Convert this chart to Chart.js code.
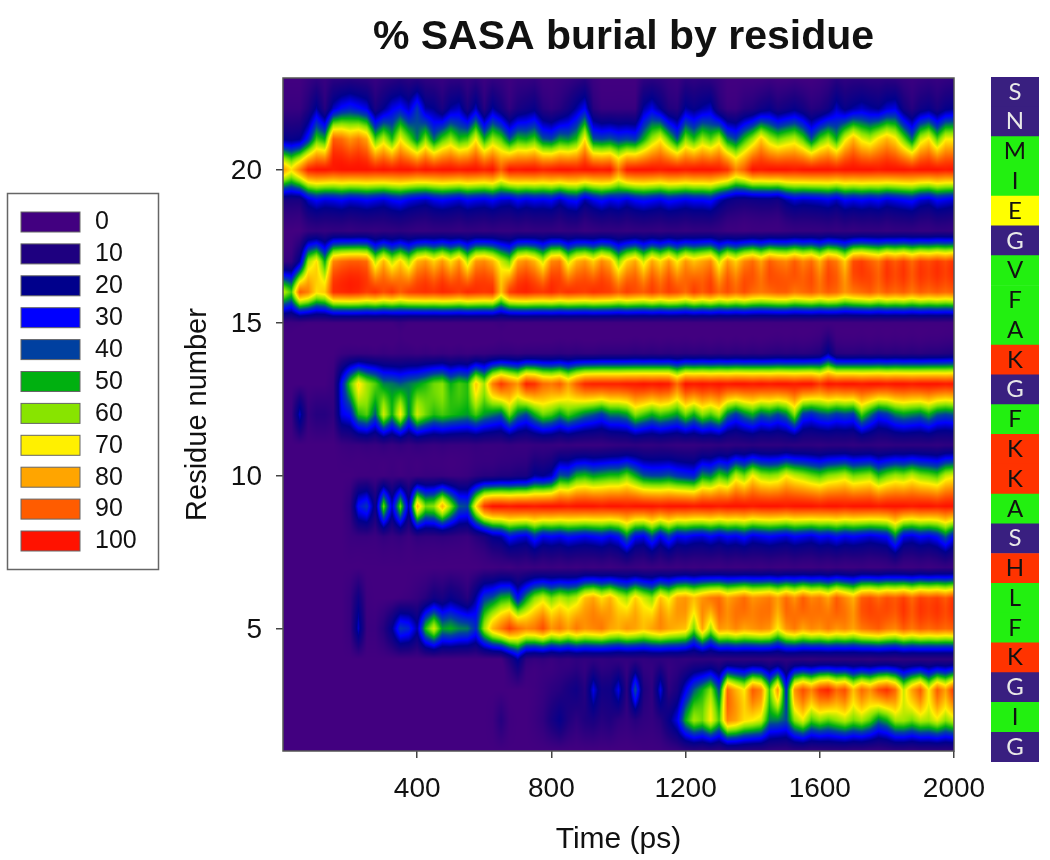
<!DOCTYPE html>
<html>
<head>
<meta charset="utf-8">
<title>% SASA burial by residue</title>
<script src="https://cdn.jsdelivr.net/npm/chart.js@4/dist/chart.umd.min.js"></script>
<style>
    html, body { margin: 0; padding: 0; background: #fff; }
    #wrap { position: relative; width: 1050px; height: 860px; overflow: hidden; }
    #mapChart { position: absolute; left: 0; top: 0; }
    #stripChart { position: absolute; left: 991px; top: 77px; }
</style>
</head>
<body>
<div id="wrap">
    <canvas id="mapChart" width="1050" height="860"></canvas>
    <canvas id="stripChart" width="48" height="685"></canvas>
</div>
<script>
// time of every column, one reading each 25 ps
const timeStep = 25
const timeTicks = [400, 800, 1200, 1600, 2000]
const residueTicks = [5, 10, 15, 20]

const levels = [0, 10, 20, 30, 40, 50, 60, 70, 80, 90, 100]
const levelColors = ['#420080', '#1e0080', '#00008c', '#0000ff', '#0040a0', '#00b010', '#88e400', '#fff000', '#ffa500', '#ff5c00', '#ff1200']

// residues from the top of the strip down
const residueLetters = ['S', 'N', 'M', 'I', 'E', 'G', 'V', 'F', 'A', 'K', 'G', 'F', 'K', 'K', 'A', 'S', 'H', 'L', 'F', 'K', 'G', 'I', 'G']
const residueTypes = ['n', 'n', 'h', 'h', 'a', 'n', 'h', 'h', 'h', 'b', 'n', 'h', 'b', 'b', 'h', 'n', 'b', 'h', 'h', 'b', 'n', 'h', 'n']
const typeColors = { n: '#391f80', h: '#22f010', a: '#ffff00', b: '#ff3300' }

const res23 = [0,0,0,3,5,3,6,6,7,6, 5,3,5,6,8,6,7,5,4,3, 5,5,3,5,2,4,3,1,3,3, 4,1,1,2,3,5,7,2,0,0, 0,0,0,5,6,5,3,2,6,5, 6,5,3,0,0,0,0,0,1,0, 0,1,0,0,1,3,7,5,6,6, 5,5,6,5,3,2,3,4,3,4,5]
const res22 = [3,3,3,10,22,8,25,32,35,32, 28,12,20,28,32,25,38,22,20,12, 22,25,12,25,8,22,14,5,12,15, 18,8,5,8,14,22,30,8,3,3, 3,3,3,22,28,20,10,8,22,18, 22,25,10,3,3,8,10,15,18,12, 15,18,14,8,10,15,25,18,22,25, 22,20,26,28,15,8,15,18,12,18,20]
const res21 = [20,18,20,35,55,50,90,88,82,86, 80,55,65,52,70,58,45,60,44,55, 62,52,55,70,50,62,56,42,52,50, 55,42,40,48,46,52,72,42,40,42, 38,40,38,50,62,70,56,42,60,52, 62,56,65,46,40,52,62,75,64,58, 62,65,56,42,55,62,50,68,78,68, 64,72,78,72,58,44,65,72,56,70,70]
const res20 = [82,72,85,98,100,100,99,100,100,100, 100,99,100,99,100,100,98,100,99,100, 100,99,100,100,98,100,90,100,99,100, 100,98,99,100,100,99,100,100,99,100, 86,99,100,100,100,99,100,100,99,100, 100,100,99,96,84,90,100,99,100,100, 100,99,100,100,100,100,99,100,100,100, 100,99,100,100,100,99,100,100,100,99,100]
const res19 = [12,12,12,25,30,27,28,30,27,28, 30,28,26,30,32,28,26,24,28,30, 28,26,30,28,27,30,26,25,30,27, 29,28,30,24,30,32,22,28,32,28, 30,26,30,32,30,28,32,30,28,30, 30,32,24,18,15,14,15,16,16,14, 22,26,24,25,26,28,24,30,28,30, 28,30,26,28,30,32,26,24,30,28,26]
const res18 = [0,0,0,4,5,4,5,5,4,5, 5,4,5,5,6,5,4,4,5,5, 5,4,5,5,4,5,4,4,5,4, 5,5,5,4,5,5,3,4,5,5, 5,4,5,5,5,4,5,5,4,5, 5,5,4,2,2,1,2,2,2,2, 3,4,4,4,4,5,4,5,4,5, 5,5,4,5,5,5,4,4,5,5,4]
const res17 = [4,5,22,62,72,50,84,88,90,90, 88,64,78,64,74,62,78,82,74,82, 72,82,64,82,84,78,66,58,80,84, 78,66,84,86,66,78,82,74,84,78, 60,74,80,66,80,72,82,70,82,76, 80,84,66,82,74,84,88,80,90,86, 84,90,84,88,78,90,86,74,92,94, 90,86,94,90,94,88,94,92,95,92,96]
const res16 = [65,55,90,85,72,75,96,97,98,97, 94,96,92,95,90,94,95,96,95,97, 96,94,97,96,95,96,76,94,97,98, 96,95,97,94,96,95,94,96,95,94, 90,94,92,90,94,90,94,92,88,94, 90,94,88,92,88,92,88,86,88,90, 90,86,88,90,86,90,88,82,86,88, 90,86,90,88,90,86,90,88,90,88,90]
const res15 = [2,2,2,1,1,1,1,1,1,1, 1,1,1,1,3,1,1,1,1,1, 1,1,1,1,1,1,2,1,1,1, 1,1,1,1,1,1,1,1,1,1, 1,1,1,1,1,1,1,1,1,1, 1,1,1,1,1,1,1,1,1,1, 1,1,1,1,1,1,1,1,1,1, 1,1,1,1,1,1,1,1,1,1,1]
const res14 = [0,0,0,0,0,0,0,2,3,3, 3,2,3,2,3,3,2,3,2,3, 2,3,2,3,3,4,5,5,4,5, 5,5,5,6,5,6,5,5,6,6, 6,6,7,6,7,6,7,6,7,6, 7,6,7,6,7,6,7,6,7,8, 7,8,7,8,10,22,8,7,7,8, 7,8,7,8,7,8,7,8,8,9,10]
const res13 = [0,0,0,0,0,0,3,32,55,72, 62,56,46,45,42,45,48,52,58,60, 50,55,52,75,62,85,95,88,82,98, 96,88,86,90,80,90,97,98,98,98, 98,99,99,100,99,100,99,88,100,99, 100,99,100,99,100,100,99,100,99,100, 100,99,100,100,95,100,99,100,100,99, 100,100,99,100,100,99,100,100,100,99,100]
const res12 = [0,2,25,4,8,8,5,28,32,52, 56,42,66,50,70,45,66,58,52,55, 52,50,48,55,48,45,42,58,45,40, 50,58,55,48,55,50,45,42,38,45, 45,48,60,55,50,55,52,48,58,50, 60,55,62,45,38,45,50,42,45,40, 45,60,38,35,40,42,38,40,38,55, 45,35,38,45,48,46,44,50,42,40,42]
const res11 = [0,0,0,0,0,0,0,2,3,3, 4,3,5,3,5,3,5,4,3,4, 3,3,3,4,3,3,3,4,3,3, 4,4,4,3,4,3,3,3,3,4, 5,5,6,5,5,6,5,4,4,4, 5,5,6,5,6,6,7,6,6,6, 7,6,6,6,5,6,6,6,5,6, 6,5,5,6,6,6,6,6,5,6,6]
const res10 = [0,0,0,0,0,0,0,0,0,1, 1,1,1,2,1,2,2,3,3,3, 2,2,3,6,8,8,10,10,12,12, 22,20,24,42,40,50,52,48,50,52, 52,58,50,42,40,40,42,38,36,34, 48,45,55,50,65,58,70,62,60,62, 70,65,62,58,55,60,62,65,58,60, 62,52,58,62,60,65,60,58,55,65,68]
const res9 = [0,0,0,0,0,0,0,0,5,32, 38,15,58,25,58,22,78,58,60,78, 60,42,40,72,95,100,100,99,100,100, 99,100,100,100,99,100,100,100,99,100, 100,99,100,100,100,99,100,100,100,99, 100,100,99,100,100,100,99,100,100,100, 99,100,100,100,99,100,100,99,100,100, 100,99,100,100,100,99,100,100,99,100,100]
const res8 = [0,0,0,0,0,0,0,0,2,3, 3,2,5,3,5,2,6,5,5,6, 5,4,3,8,12,20,22,32,28,26, 36,28,30,28,32,30,28,30,32,28, 32,45,30,28,40,28,38,28,30,27, 26,30,26,30,28,32,26,28,30,28, 26,30,28,26,30,28,32,28,30,28, 26,28,30,45,28,26,30,28,32,42,30]
const res7 = [0,0,0,0,0,0,0,0,0,0, 0,0,0,0,0,0,0,0,0,0, 0,0,0,0,1,1,2,1,3,2, 3,2,3,2,3,2,3,2,3,2, 3,4,3,2,3,2,3,2,3,2, 3,2,2,3,2,2,3,2,3,2, 2,3,2,2,3,2,3,2,2,3, 2,2,3,4,2,2,3,2,3,4,3]
const res6 = [0,0,0,0,0,0,0,0,3,15, 1,0,0,0,1,2,4,8,15,12, 18,14,8,22,38,42,50,52,32,48, 60,66,58,64,60,64,76,80,72,78, 68,62,74,66,60,76,68,80,82,76, 82,86,88,80,84,88,82,84,86,80, 88,82,90,84,86,80,90,84,78,90, 92,88,92,90,94,88,94,92,94,90,96]
const res5 = [0,0,0,0,0,0,0,0,3,25, 2,2,8,20,38,35,22,52,66,48, 50,46,45,36,62,78,86,94,88,84, 86,92,82,86,80,86,82,84,86,80, 78,82,80,76,80,84,80,78,76,58, 80,62,82,80,84,80,82,84,82,70, 82,86,80,84,82,86,82,84,80,86, 88,90,86,84,90,86,90,88,90,88,90]
const res4 = [0,0,0,0,0,0,0,0,0,0, 0,0,0,0,0,0,0,0,0,0, 0,0,0,0,0,0,0,10,22,6, 4,5,3,5,4,6,5,6,5,6, 5,5,6,5,6,6,5,6,5,6, 6,6,5,6,6,6,6,6,5,6, 6,6,6,5,6,6,6,6,6,6, 5,6,6,5,6,6,6,6,6,6,6]
const res3 = [0,0,0,0,0,0,0,0,0,0, 0,0,0,0,0,0,0,0,0,0, 0,0,0,0,0,0,0,0,0,0, 1,3,6,8,12,15,8,28,14,15, 28,6,42,10,5,28,6,12,28,42, 50,60,40,88,78,70,90,84,55,82, 35,82,92,84,95,98,88,92,76,88, 82,92,96,88,65,80,90,70,90,80,96]
const res2 = [0,0,0,0,0,0,0,0,0,0, 0,0,0,0,0,0,0,0,0,0, 0,0,0,0,0,1,8,1,0,0, 2,5,12,18,10,6,10,12,8,10, 6,4,8,5,4,8,18,28,50,62, 58,70,55,84,80,72,70,66,45,45, 40,60,68,55,60,56,60,64,58,62, 56,45,50,62,62,58,64,62,68,60,66]
const res1 = [0,0,0,0,0,0,0,0,0,0, 0,0,0,0,0,0,0,0,0,0, 0,0,0,0,0,0,0,0,0,0, 0,0,0,0,0,0,0,0,0,0, 0,0,0,1,1,1,2,3,5,6, 5,6,5,8,8,7,6,6,5,4, 4,5,5,4,4,5,5,5,4,4, 3,3,4,5,5,4,5,5,5,5,5]

const residueRows = [res1, res2, res3, res4, res5, res6, res7, res8, res9, res10, res11, res12,
    res13, res14, res15, res16, res17, res18, res19, res20, res21, res22, res23]

const fontName = '"Liberation Sans", Arial, sans-serif'
const curveShare = 0.3

function hexToRgb(hex) {
    return [1, 3, 5].map(p => parseInt(hex.substr(p, 2), 16))
}
const levelRgb = levelColors.map(hexToRgb)

function colorForValue(v) {
    let p = Math.max(0, Math.min(99.999, v)) / 10
    let k = Math.floor(p)
    let f = p - k
    return levelRgb[k].map((c, n) => c + (levelRgb[k + 1][n] - c) * f)
}

function columnValue(row, c0, fc) {
    const r = residueRows[Math.max(0, Math.min(residueRows.length - 1, row))]
    return r[c0] * (1 - fc) + r[c0 + 1] * fc
}

// linear along time, across the residues a linear and Catmull-Rom mix for the soft contour edge
function valueAt(t, r) {
    let ci = Math.max(0, Math.min(res1.length - 1.001, t / timeStep))
    let ri = Math.max(0, Math.min(residueRows.length - 1.001, r - 1))
    let c0 = Math.floor(ci), r0 = Math.floor(ri)
    let fc = ci - c0, f = ri - r0
    let a = columnValue(r0 - 1, c0, fc)
    let b = columnValue(r0, c0, fc)
    let c = columnValue(r0 + 1, c0, fc)
    let d = columnValue(r0 + 2, c0, fc)
    let curve = 0.5 * (2 * b + (c - a) * f + (2 * a - 5 * b + 4 * c - d) * f * f + (3 * b - a - 3 * c + d) * f * f * f)
    return curve * curveShare + (b + (c - b) * f) * (1 - curveShare)
}

// contour fill, every pixel is looked up through the chart scales
const contourPlugin = {
    id: 'contour',
    afterLayout(chart) {
        chart.titleBlock.left += 5
        chart.titleBlock.right += 5
    },
    beforeDatasetsDraw(chart) {
        const area = chart.chartArea
        const x = chart.scales.x
        const y = chart.scales.y
        const w = Math.round(area.right - area.left)
        const h = Math.round(area.bottom - area.top)
        const off = document.createElement('canvas')
        off.width = w
        off.height = h
        const octx = off.getContext('2d')
        const img = octx.createImageData(w, h)
        for (let py = 0; py < h; py++) {
            const r = y.getValueForPixel(area.top + py + 0.5)
            for (let px = 0; px < w; px++) {
                const t = x.getValueForPixel(area.left + px + 0.5)
                const rgb = colorForValue(valueAt(t, r))
                const o = (py * w + px) * 4
                img.data[o] = rgb[0]
                img.data[o + 1] = rgb[1]
                img.data[o + 2] = rgb[2]
                img.data[o + 3] = 255
            }
        }
        octx.putImageData(img, 0, 0)
        chart.ctx.drawImage(off, area.left, area.top)
    },
    afterDatasetsDraw(chart) {
        const a = chart.chartArea
        const ctx = chart.ctx
        ctx.save()
        ctx.strokeStyle = '#555'
        ctx.lineWidth = 1.5
        ctx.strokeRect(a.left, a.top, a.right - a.left, a.bottom - a.top)
        ctx.restore()
    }
}

// legend box at the left of the plot
const levelLegend = {
    id: 'levelLegend',
    afterDraw(chart) {
        const ctx = chart.ctx
        ctx.save()
        ctx.strokeStyle = '#666'
        ctx.lineWidth = 1.5
        ctx.strokeRect(7.5, 193.5, 151, 376)
        ctx.font = '25px ' + fontName
        ctx.textBaseline = 'middle'
        ctx.textAlign = 'left'
        levels.forEach((lv, n) => {
            const top = 212 + n * 31.9
            ctx.fillStyle = levelColors[n]
            ctx.fillRect(21, top, 59, 20)
            ctx.strokeStyle = '#666'
            ctx.lineWidth = 1
            ctx.strokeRect(21, top, 59, 20)
            ctx.fillStyle = '#111'
            ctx.fillText(String(lv), 95, top + 10.5)
        })
        ctx.restore()
    }
}

new Chart(document.getElementById('mapChart'), {
    type: 'scatter',
    data: {
        datasets: [{
            label: '% SASA burial',
            data: residueRows.flatMap((row, r) => row.map((v, c) => ({ x: c * timeStep, y: r + 1, v: v }))),
            pointRadius: 0,
            pointHitRadius: 0
        }]
    },
    plugins: [contourPlugin, levelLegend],
    options: {
        responsive: false,
        animation: false,
        events: [],
        layout: { padding: { left: 180, right: 96, top: 0, bottom: 0 } },
        plugins: {
            legend: { display: false },
            tooltip: { enabled: false },
            title: {
                display: true,
                text: '% SASA burial by residue',
                color: '#111',
                fullSize: false,
                font: { family: fontName, size: 41, weight: 'bold' },
                padding: { top: 13, bottom: 15.8 }
            }
        },
        scales: {
            x: {
                type: 'linear',
                min: 0,
                max: 2000,
                afterBuildTicks: s => { s.ticks = timeTicks.map(v => ({ value: v })) },
                afterFit: s => { s.height = 109 },
                grid: { drawOnChartArea: false, drawTicks: true, tickLength: 7, color: '#444', lineWidth: 1.5 },
                border: { display: false },
                ticks: { color: '#111', font: { family: fontName, size: 28 }, padding: 14, maxRotation: 0, autoSkip: false, callback: v => String(v) },
                title: { display: true, text: 'Time (ps)', color: '#111', font: { family: fontName, size: 30 }, padding: { top: 8, bottom: 2 } }
            },
            y: {
                type: 'linear',
                min: 1,
                max: 23,
                afterBuildTicks: s => { s.ticks = residueTicks.map(v => ({ value: v })) },
                afterFit: s => { s.width = 103 },
                grid: { drawOnChartArea: false, drawTicks: true, tickLength: 7, color: '#444', lineWidth: 1.5 },
                border: { display: false },
                ticks: { color: '#111', font: { family: fontName, size: 28 }, padding: 14, labelOffset: 2, autoSkip: false, callback: v => String(v) },
                title: { display: true, text: 'Residue number', color: '#111', font: { family: fontName, size: 29 }, padding: { top: 1, bottom: 11 } }
            }
        }
    }
})

// residue letters on top of the strip bars
const stripLetters = {
    id: 'stripLetters',
    afterDatasetsDraw(chart) {
        const ctx = chart.ctx
        ctx.save()
        ctx.font = '24px Lato, sans-serif'
        ctx.textAlign = 'center'
        ctx.textBaseline = 'middle'
        chart.getDatasetMeta(0).data.forEach((bar, n) => {
            ctx.fillStyle = residueTypes[n] === 'n' ? '#e8e8e8' : '#111'
            ctx.fillText(residueLetters[n], 24, bar.y)
        })
        ctx.restore()
    }
}

new Chart(document.getElementById('stripChart'), {
    type: 'bar',
    data: {
        labels: residueLetters.map((l, n) => n + ':' + l),
        datasets: [{
            data: residueLetters.map(() => 1),
            backgroundColor: residueTypes.map(t => typeColors[t]),
            barPercentage: 1,
            categoryPercentage: 1
        }]
    },
    plugins: [stripLetters],
    options: {
        indexAxis: 'y',
        responsive: false,
        animation: false,
        events: [],
        plugins: { legend: { display: false }, tooltip: { enabled: false }, title: { display: false } },
        scales: {
            x: { display: false, min: 0, max: 1 },
            y: { display: false }
        }
    }
})
</script>
</body>
</html>
